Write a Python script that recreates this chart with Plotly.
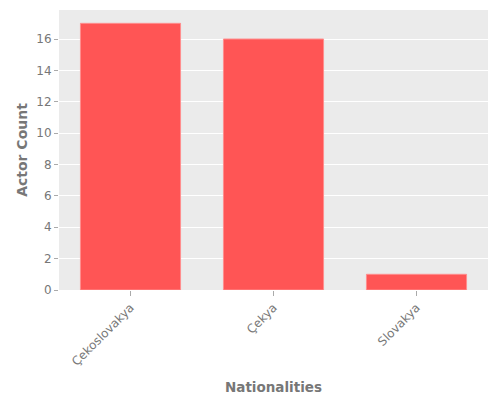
import plotly.graph_objects as go

categories = ["Çekoslovakya", "Çekya", "Slovakya"]
counts = [17, 16, 1]

fig = go.Figure(go.Bar(
    x=categories, y=counts, width=0.7,
    marker=dict(color="#FF5555", line=dict(color="#FF8E8E", width=1)),
))
fig.update_layout(
    width=500, height=400,
    margin=dict(l=59, r=12, t=10, b=110),
    paper_bgcolor="white", plot_bgcolor="#EBEBEB",
    font=dict(family="DejaVu Sans", size=12, color="#777777"),
    showlegend=False, bargap=0.3,
)
fig.update_xaxes(
    range=[-0.5, 2.5], tickangle=-45, showgrid=False, zeroline=False,
    ticks="outside", ticklen=5, tickcolor="#AAAAAA", automargin=False,
    tickfont=dict(size=12, color="#777777"),
    title=dict(text="<b>Nationalities</b>", font=dict(size=13.5, color="#777777"), standoff=14),
)
fig.update_yaxes(
    range=[0, 17.85], dtick=2, showgrid=True, gridcolor="white", gridwidth=1,
    zeroline=False, ticks="outside", ticklen=4, tickcolor="#AAAAAA", automargin=False,
    tickfont=dict(size=12, color="#777777"),
    title=dict(text="<b>Actor Count</b>", font=dict(size=14, color="#777777"), standoff=5),
)
fig.write_html("out.html")
